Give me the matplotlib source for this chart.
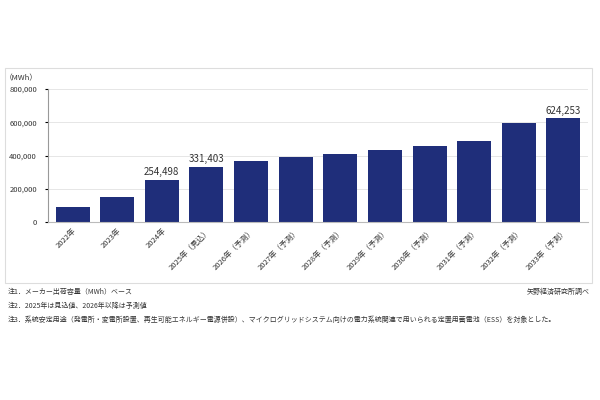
import matplotlib
matplotlib.use("Agg")
import matplotlib.pyplot as plt
from matplotlib.patches import Rectangle

plt.rcParams["font.family"] = ["Noto Sans CJK JP"]

categories = ["2022年", "2023年", "2024年", "2025年（見込）", "2026年（予測）", "2027年（予測）",
              "2028年（予測）", "2029年（予測）", "2030年（予測）", "2031年（予測）", "2032年（予測）", "2033年（予測）"]
values = [93000, 150000, 254498, 331403, 365000, 392000, 412000, 435000, 459000, 486000, 595000, 624253]
labeled = {2: "254,498", 3: "331,403", 11: "624,253"}
yticks = [0, 200000, 400000, 600000, 800000]
notes = ["注1．メーカー出荷容量（MWh）ベース",
         "注2．2025年は見込値、2026年以降は予測値",
         "注3．系統安定用途（発電所・変電所設置、再生可能エネルギー電源併設）、マイクログリッドシステム向けの電力系統関連で用いられる定置用蓄電池（ESS）を対象とした。"]
source = "矢野経済研究所調べ"

fig = plt.figure(figsize=(6, 4), dpi=100)
fig.patches.append(Rectangle((5/600, 1-283/400), 587/600, 215/400, transform=fig.transFigure,
                             fill=False, edgecolor="#dddddd", linewidth=0.8))
ax = fig.add_axes([48/600, 1-222/400, 540/600, 133/400])
x = range(len(values))
ax.bar(x, values, width=0.76, color="#1f2e7a")
ax.set_xlim(-0.55, len(values)-0.45)
ax.set_ylim(0, 800000)
ax.set_yticks(yticks)
ax.set_yticklabels([f"{v:,}" for v in yticks], fontsize=5.5, color="#333333")
ax.grid(axis="y", color="#e6e6e6", linewidth=0.7)
ax.set_axisbelow(True)
for s in ["top", "right"]:
    ax.spines[s].set_visible(False)
ax.spines["bottom"].set_color("#bbbbbb")
ax.spines["left"].set_color("#999999")
ax.tick_params(axis="y", length=2, pad=6)
ax.tick_params(axis="x", length=0)
ax.set_xticks(list(x))
ax.set_xticklabels(categories, rotation=45, ha="right", rotation_mode="anchor", fontsize=5.5, color="#333333")
for i, t in labeled.items():
    ax.text(i, values[i] + 15000, t, ha="center", va="bottom", fontsize=7, color="#333333")
ax.text(-0.02, 1.05, "（MWh）", transform=ax.transAxes, ha="right", va="bottom", fontsize=5.5, color="#333333")
for k, n in enumerate(notes):
    fig.text(8/600, 1-(292+k*14)/400, n, fontsize=5, va="center", color="#333333")
fig.text(590/600, 1-292/400, source, fontsize=5, va="center", ha="right", color="#333333")
fig.savefig("out.png", dpi=100)
